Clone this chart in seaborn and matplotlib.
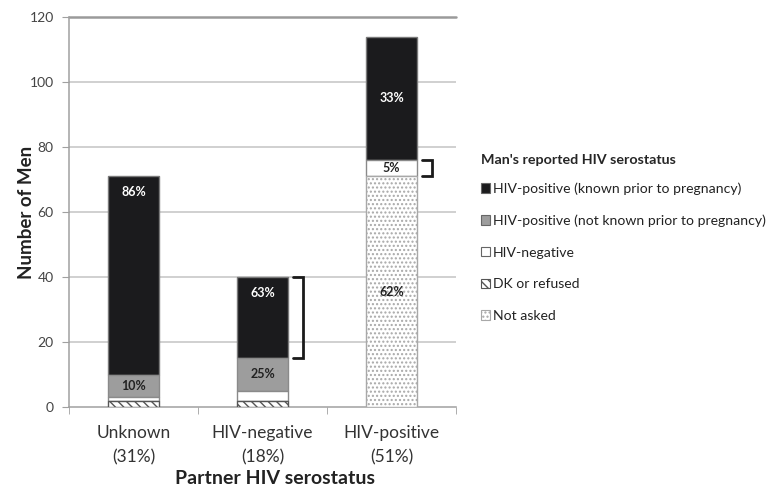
import matplotlib
matplotlib.use("Agg")
import matplotlib.pyplot as plt
import seaborn as sns
import pandas as pd
import numpy as np
from matplotlib.patches import Patch

# ---- data ----
categories = ["Unknown\n(31%)", "HIV-negative\n(18%)", "HIV-positive\n(51%)"]
series_names = ["Not asked", "DK or refused", "HIV-negative",
                "HIV-positive (not known prior to pregnancy)",
                "HIV-positive (known prior to pregnancy)"]
not_asked = [0, 0, 71]
dk_refused = [2, 2, 0]
hiv_negative = [1, 3, 5]
pos_not_known = [7, 10, 0]
pos_known = [61, 25, 38]

# percent labels: (category index, series, text)
pct_labels = [
    (0, "HIV-positive (known prior to pregnancy)", "86%"),
    (0, "HIV-positive (not known prior to pregnancy)", "10%"),
    (1, "HIV-positive (known prior to pregnancy)", "63%"),
    (1, "HIV-positive (not known prior to pregnancy)", "25%"),
    (2, "HIV-positive (known prior to pregnancy)", "33%"),
    (2, "HIV-negative", "5%"),
    (2, "Not asked", "62%"),
]
# vertical placement within segment (0 = bottom, 1 = top)
pct_frac = [0.92, 0.5, 0.8, 0.5, 0.5, 0.5, 0.5]
# brackets: (category index, series spanned)
brackets = [(1, "HIV-positive (known prior to pregnancy)"), (2, "HIV-negative")]

legend_order = ["HIV-positive (known prior to pregnancy)",
                "HIV-positive (not known prior to pregnancy)",
                "HIV-negative", "DK or refused", "Not asked"]

styles = {
    "HIV-positive (known prior to pregnancy)": dict(fc="#1b1b1d", ec="#7a7a7a", hatch=None),
    "HIV-positive (not known prior to pregnancy)": dict(fc="#9d9d9d", ec="#8a8a8a", hatch=None),
    "HIV-negative": dict(fc="#ffffff", ec="#8a8a8a", hatch=None),
    "DK or refused": dict(fc="#ffffff", ec="#555555", hatch="\\\\\\\\"),
    "Not asked": dict(fc="#ffffff", ec="#a8a8a8", hatch="...."),
}

# ---- build stacked table ----
vals = {
    "Not asked": not_asked, "DK or refused": dk_refused, "HIV-negative": hiv_negative,
    "HIV-positive (not known prior to pregnancy)": pos_not_known,
    "HIV-positive (known prior to pregnancy)": pos_known,
}
cum = np.zeros(len(categories))
bottoms, tops = {}, {}
for s in series_names:
    bottoms[s] = cum.copy()
    cum = cum + np.array(vals[s], dtype=float)
    tops[s] = cum.copy()

sns.set_style("white")
plt.rcParams['font.family'] = ['Lato', 'DejaVu Sans']
plt.rcParams['hatch.linewidth'] = 1.0

fig = plt.figure(figsize=(7.71, 4.92), dpi=100)
ax = fig.add_axes([69/771, 1-407/492, (456-69)/771, (407-17)/492])

for s in reversed(series_names):
    df = pd.DataFrame({"cat": categories, "val": tops[s]})
    st = styles[s]
    n_before = len(ax.patches)
    sns.barplot(data=df, x="cat", y="val", color=st["fc"], width=0.4,
                saturation=1, ax=ax, edgecolor=st["ec"], linewidth=1.0, zorder=3)
    for i, p in enumerate(ax.patches[n_before:]):
        height = vals[s][i]
        if height <= 0:
            p.set_visible(False)
            continue
        p.set_y(bottoms[s][i])
        p.set_height(height)
        p.set_facecolor(st["fc"])
        if st["hatch"]:
            p.set_hatch(st["hatch"])

# percent labels
for (ci, s, txt), f in zip(pct_labels, pct_frac):
    y = bottoms[s][ci] + f * vals[s][ci]
    color = "white" if s == "HIV-positive (known prior to pregnancy)" else "#222222"
    ax.text(ci, y, txt, ha="center", va="center", fontsize=9,
            fontweight="bold", color=color, zorder=5)

# brackets
for ci, s in brackets:
    x0 = ci + 0.2 + 0.04
    x1 = ci + 0.2 + 0.115
    y0, y1 = bottoms[s][ci], tops[s][ci]
    ax.plot([x0, x1, x1, x0], [y1, y1, y0, y0], color="#1a1a1a", lw=2,
            solid_joinstyle="miter", clip_on=False, zorder=5)

# axes styling
ax.set_xlim(-0.5, 2.5)
ax.set_ylim(0, 120)
ax.set_yticks(np.arange(0, 121, 20))
for yv in np.arange(20, 101, 20):
    ax.axhline(yv, color="#c4c4c4", lw=1.1, zorder=0)
ax.axhline(120, color="#9a9a9a", lw=1.8, zorder=0, clip_on=False)

for side in ["top", "right"]:
    ax.spines[side].set_visible(False)
ax.spines["left"].set_color("#a0a0a0")
ax.spines["bottom"].set_color("#a0a0a0")
ax.spines["left"].set_linewidth(1.1)
ax.spines["bottom"].set_linewidth(1.1)

ax.tick_params(axis="y", which="major", left=True, length=5, color="#a0a0a0",
               labelsize=10, labelcolor="#444444", pad=6)
ax.set_xticks([0, 1, 2])
ax.set_xticklabels(categories, linespacing=1.6)
ax.tick_params(axis="x", which="major", length=0, labelsize=12.5,
               labelcolor="#333333", pad=13)
ax.set_xticks([-0.5, 0.5, 1.5, 2.5], minor=True)
ax.tick_params(axis="x", which="minor", bottom=True, length=5, color="#a0a0a0")

ax.set_xlabel("Partner HIV serostatus", fontsize=14, fontweight="bold",
              color="#222222", va="center")
ax.xaxis.set_label_coords((275-69)/387, (407-479)/390)
ax.set_ylabel("Number of Men", fontsize=13.5, fontweight="bold",
              color="#222222", labelpad=-4)

# legend
handles = []
for s in legend_order:
    st = styles[s]
    handles.append(Patch(facecolor=st["fc"], edgecolor=st["ec"] if st["hatch"] else "#666666",
                         hatch=st["hatch"], linewidth=0.8, label=s))
leg = fig.legend(handles=handles, title="Man's reported HIV serostatus",
                 loc="upper left", bbox_to_anchor=(468/771, 1-141/492),
                 frameon=False, fontsize=10.1, handlelength=0.65, handleheight=0.65,
                 handletextpad=0.25, labelspacing=1.4, alignment="left",
                 title_fontproperties={"weight": "bold", "size": 10.3})
for t in leg.get_texts():
    t.set_color("#222222")
leg._legend_box.sep = 12

fig.savefig("out.png", dpi=100)
